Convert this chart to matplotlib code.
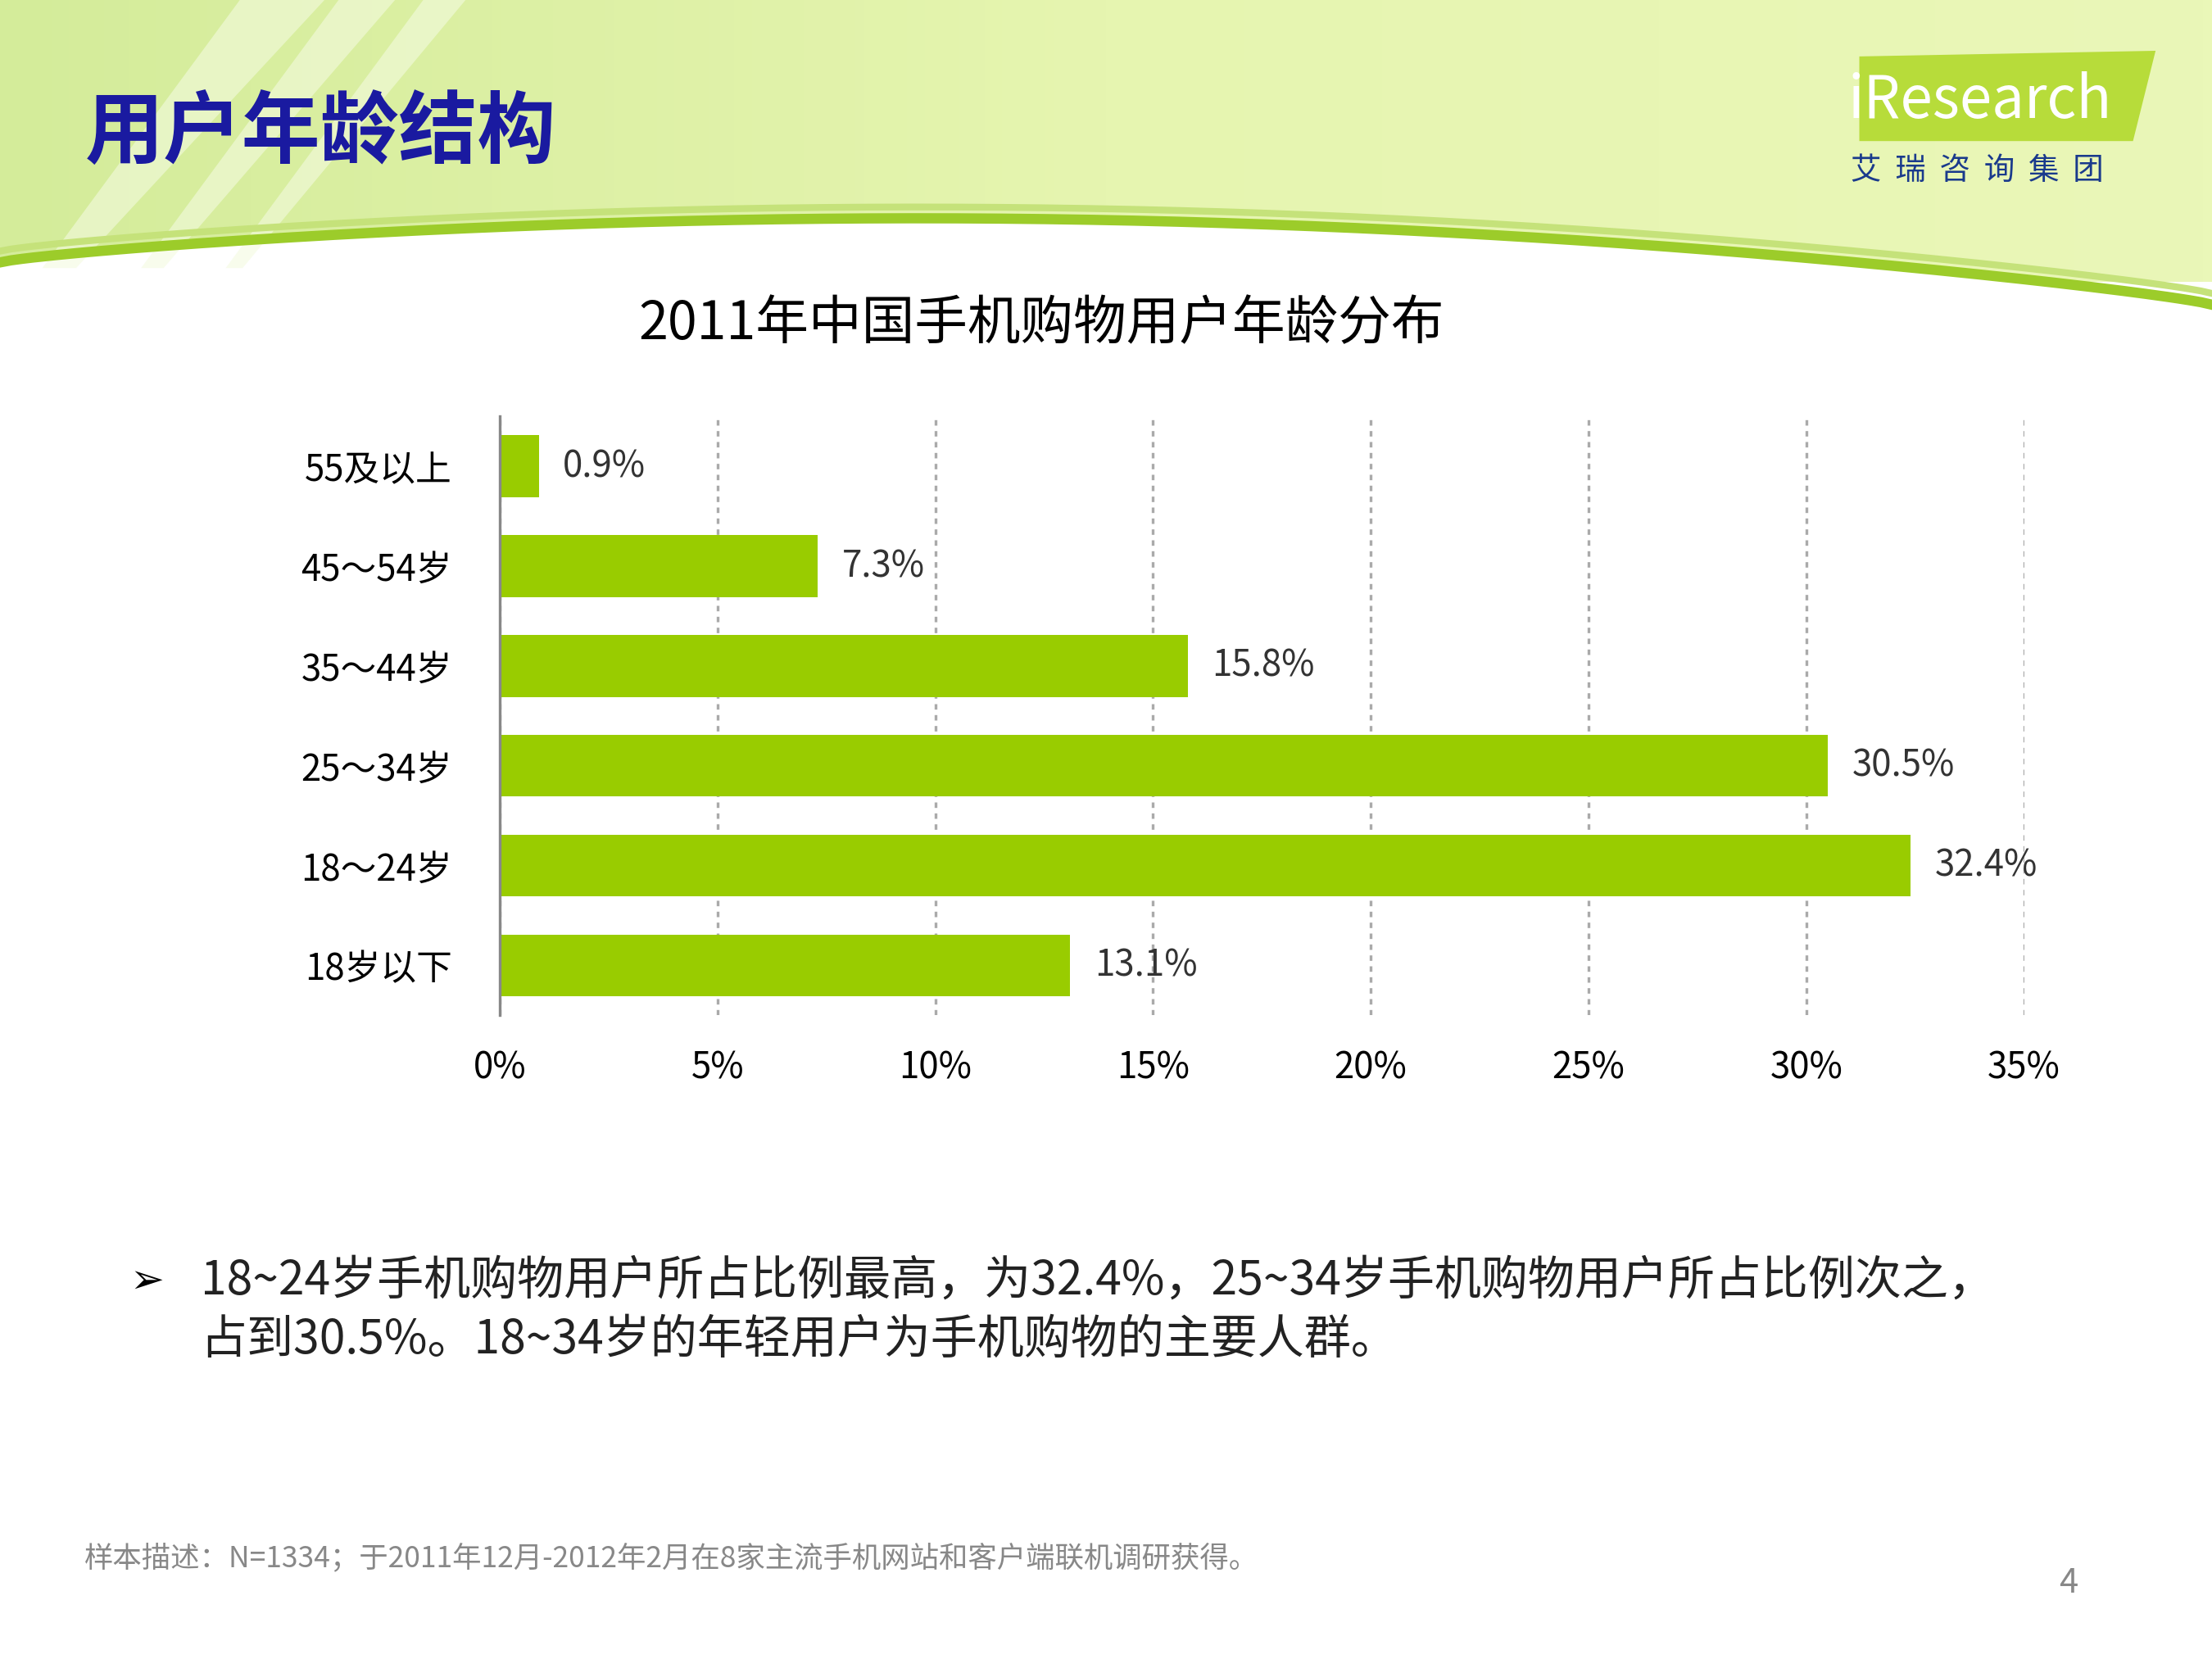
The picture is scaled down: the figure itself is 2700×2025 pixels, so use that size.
import numpy as np
import matplotlib
matplotlib.use("Agg")
import matplotlib.pyplot as plt
from matplotlib.patches import Polygon

plt.rcParams['font.family'] = ['Noto Sans CJK SC', 'DejaVu Sans']

categories = ["55及以上", "45～54岁", "35～44岁", "25～34岁", "18～24岁", "18岁以下"]
values = [0.9, 7.3, 15.8, 30.5, 32.4, 13.1]
xticks = [0, 5, 10, 15, 20, 25, 30, 35]

fig = plt.figure(figsize=(9, 6.75), dpi=300)

# --- header background ---
bg = fig.add_axes([0, 0, 1, 1], zorder=-1)
bg.set_xlim(0, 1568)
bg.set_ylim(1176, 0)
bg.axis("off")
grad = np.linspace(0, 1, 256)[None, :]
bg.imshow(grad, extent=[0, 1568, 200, 0], cmap=matplotlib.colors.LinearSegmentedColormap.from_list(
    "g", ["#d4ec9a", "#e6f5b0", "#eaf7b8"]), aspect="auto")
xs = np.linspace(0, 1568, 200)
curve = 190 - 45 * np.sin(np.pi * xs / 1568) ** 0.8 + 30 * (xs / 1568)
bg.fill_between(xs, curve, 1176, color="white")
bg.plot(xs, curve - 4, color="#9ccc2a", lw=3)
bg.plot(xs, curve - 12, color="#c5e27a", lw=2)
for x0, w in [(30, 60), (100, 40), (160, 30)]:
    bg.add_patch(Polygon([[x0 + 140, 0], [x0 + 140 + w, 0], [x0 + w * 0.4, 190], [x0, 190]],
                         color="#f4fbe0", alpha=0.6, lw=0))
bg.text(60, 95, "用户年龄结构", fontsize=23, color="#1a1aa0", fontweight="bold", va="center")
bg.add_patch(Polygon([[1318, 40], [1528, 36], [1512, 100], [1318, 100]], color="#b7dc3a", lw=0))
bg.text(1310, 72, "iResearch", fontsize=17, color="white", va="center")
bg.text(1312, 121, "艾  瑞  咨  询  集  团", fontsize=9, color="#1a3a8c", va="center")
bg.text(738, 230, "2011年中国手机购物用户年龄分布", fontsize=15.5, ha="center", va="center",
        fontweight="medium")
bg.text(92, 908, "➢", fontsize=12, va="center", family=["DejaVu Sans"])
bg.text(142, 908, "18~24岁手机购物用户所占比例最高，为32.4%，25~34岁手机购物用户所占比例次之，",
        fontsize=13.7, va="center", color="#222222")
bg.text(142, 950, "占到30.5%。18~34岁的年轻用户为手机购物的主要人群。",
        fontsize=13.7, va="center", color="#222222")
bg.text(60, 1105, "样本描述：N=1334；于2011年12月-2012年2月在8家主流手机网站和客户端联机调研获得。",
        fontsize=8.5, va="center", color="#888888")
bg.text(1466, 1122, "4", fontsize=10, va="center", ha="center", color="#888888")

# --- chart ---
ax = fig.add_axes([0.226, 0.388, 0.689, 0.361])
y = np.arange(len(categories))
ax.barh(y, values, height=0.62, color="#99cc00", zorder=2)
for yi, v in zip(y, values):
    ax.text(v + 0.55, yi, f"{v}%", va="center", fontsize=10.5, color="#333333")
ax.set_ylim(len(categories) - 0.5, -0.5)
ax.set_xlim(0, 35)
ax.set_xticks(xticks)
ax.set_xticklabels([f"{t}%" for t in xticks], fontsize=10.5, fontweight="medium")
ax.set_yticks(y)
ax.set_yticklabels(categories, fontsize=10.5, fontweight="medium")
ax.tick_params(length=0, pad=14)
ax.tick_params(axis="x", pad=10)
ax.grid(axis="x", ls=(0, (2, 2)), color="#aaaaaa", lw=0.8, zorder=0)
for s in ["top", "right", "bottom"]:
    ax.spines[s].set_visible(False)
ax.spines["left"].set_color("#888888")

fig.savefig("out.png", dpi=300)
